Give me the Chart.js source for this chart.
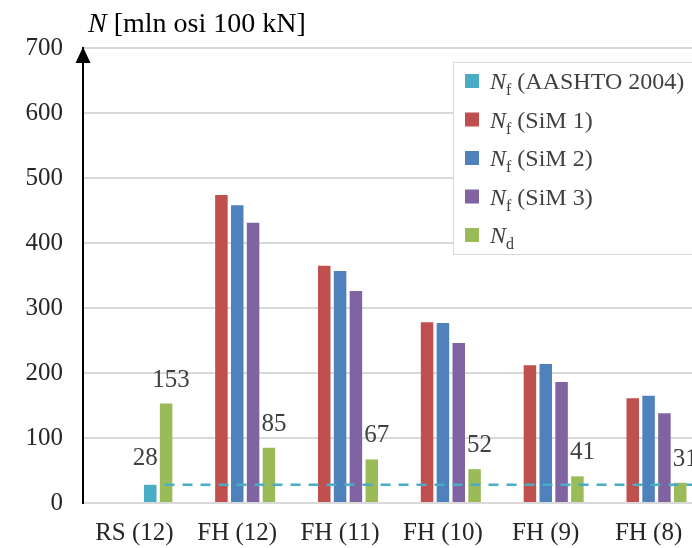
<!DOCTYPE html>
<html>
<head>
<meta charset="utf-8">
<script src="https://cdn.jsdelivr.net/npm/chart.js@4"></script>
<style>
  html, body { margin: 0; padding: 0; background: #fff; overflow: hidden; width: 692px; height: 548px; }
  #wrap { width: 720px; height: 548px; }
</style>
</head>
<body>
<div id="wrap"><canvas id="myChart" width="720" height="548"></canvas></div>
<script>
const categories = ["RS (12)", "FH (12)", "FH (11)", "FH (10)", "FH (9)", "FH (8)"];
const aashto = [28, null, null, null, null, null];
const sim1 = [null, 474, 365, 278, 212, 161];
const sim2 = [null, 458, 357, 277, 214, 165];
const sim3 = [null, 431, 326, 246, 186, 138];
const nd = [153, 85, 67, 52, 41, 31];
const spacer = [null, null, null, null, null, null];

const legendSubs = ["f", "f", "f", "f", "d"];
const legendTexts = [" (AASHTO 2004)", " (SiM 1)", " (SiM 2)", " (SiM 3)", ""];
const colors = ["#4BACC6", "#C0504D", "#4F81BD", "#8064A2", "#9BBB59"];

const FONT = "'Liberation Serif', 'Times New Roman', serif";

function bar(label, data, color, stack) {
  return {
    label: label,
    data: data,
    backgroundColor: color,
    stack: stack,
    barPercentage: 0.79,
    categoryPercentage: 0.77
  };
}

const decor = {
  id: "decor",
  afterDatasetsDraw(chart) {
    const { ctx, chartArea, scales } = chart;
    const y = scales.y;

    // value labels for N_d and AASHTO
    ctx.save();
    ctx.font = "25px " + FONT;
    ctx.fillStyle = "#404040";
    ctx.textAlign = "center";
    ctx.textBaseline = "alphabetic";
    chart.getDatasetMeta(5).data.forEach((el, i) => {
      if (nd[i] == null) return;
      ctx.fillText(String(nd[i]), el.x + 5, el.y - 17);
    });
    chart.getDatasetMeta(3).data.forEach((el, i) => {
      if (aashto[i] == null) return;
      ctx.fillText(String(aashto[i]), el.x - 5, el.y - 20);
    });

    // dashed AASHTO level line
    const aBar = chart.getDatasetMeta(3).data[0];
    const yy = y.getPixelForValue(aashto[0]);
    ctx.strokeStyle = colors[0];
    ctx.lineWidth = 2.5;
    ctx.setLineDash([10, 8]);
    ctx.beginPath();
    ctx.moveTo(aBar.x + aBar.width / 2 + 8, yy);
    ctx.lineTo(chartArea.right + 20, yy);
    ctx.stroke();
    ctx.restore();
  },
  afterDraw(chart) {
    const { ctx, chartArea } = chart;
    ctx.save();

    // arrow on y axis
    const ax = chartArea.left;
    ctx.fillStyle = "#000";
    ctx.beginPath();
    ctx.moveTo(ax, chartArea.top - 1);
    ctx.lineTo(ax - 7.5, chartArea.top + 15);
    ctx.lineTo(ax + 7.5, chartArea.top + 15);
    ctx.closePath();
    ctx.fill();

    // axis title
    ctx.textAlign = "left";
    ctx.textBaseline = "alphabetic";
    ctx.fillStyle = "#000";
    ctx.font = "italic 28px " + FONT;
    ctx.fillText("N", 88, 32);
    let tx = 88 + ctx.measureText("N").width;
    ctx.font = "28px " + FONT;
    ctx.fillText(" [mln osi 100 kN]", tx, 32);

    // legend
    const lx = 453, ly = 62;
    ctx.fillStyle = "#fff";
    ctx.fillRect(lx, ly, 270, 192);
    ctx.strokeStyle = "#d9d9d9";
    ctx.lineWidth = 1;
    ctx.strokeRect(lx + 0.5, ly + 0.5, 270, 192);
    legendSubs.forEach((sub, i) => {
      const cy = 81 + i * 38.5;
      ctx.fillStyle = colors[i];
      ctx.fillRect(465, cy - 7, 14, 14);
      ctx.fillStyle = "#404040";
      ctx.font = "italic 24px " + FONT;
      ctx.fillText("N", 490, cy + 8);
      let x = 490 + ctx.measureText("N").width;
      ctx.font = "16px " + FONT;
      ctx.fillText(sub, x, cy + 14);
      x += ctx.measureText(sub).width;
      ctx.font = "24px " + FONT;
      ctx.fillText(legendTexts[i], x, cy + 8);
    });
    ctx.restore();
  }
};

const ctx = document.getElementById("myChart");

new Chart(ctx, {
  type: "bar",
  data: {
    labels: categories,
    datasets: [
      bar("", spacer, "#fff", "s0"),
      bar("Nf (SiM 1)", sim1, colors[1], "s1"),
      bar("Nf (SiM 2)", sim2, colors[2], "s2"),
      bar("Nf (AASHTO 2004)", aashto, colors[0], "s3"),
      bar("Nf (SiM 3)", sim3, colors[3], "s3"),
      bar("Nd", nd, colors[4], "s4")
    ]
  },
  options: {
    responsive: false,
    animation: false,
    events: [],
    layout: { padding: { top: 48, right: 20, left: 0, bottom: 0 } },
    plugins: { legend: { display: false }, tooltip: { enabled: false } },
    scales: {
      x: {
        stacked: true,
        grid: { display: false },
        border: { display: false },
        ticks: { color: "#262626", font: { family: FONT, size: 25 }, padding: 7 },
        afterFit: s => { s.height = 45; }
      },
      y: {
        stacked: true,
        min: 0,
        max: 700,
        grid: { color: "#d9d9d9", lineWidth: 2, drawTicks: false },
        border: { display: true, color: "#000", width: 2 },
        ticks: { stepSize: 100, color: "#262626", font: { family: FONT, size: 25 }, padding: 20 },
        afterFit: s => { s.width = 83; }
      }
    }
  },
  plugins: [decor]
});
</script>
</body>
</html>
